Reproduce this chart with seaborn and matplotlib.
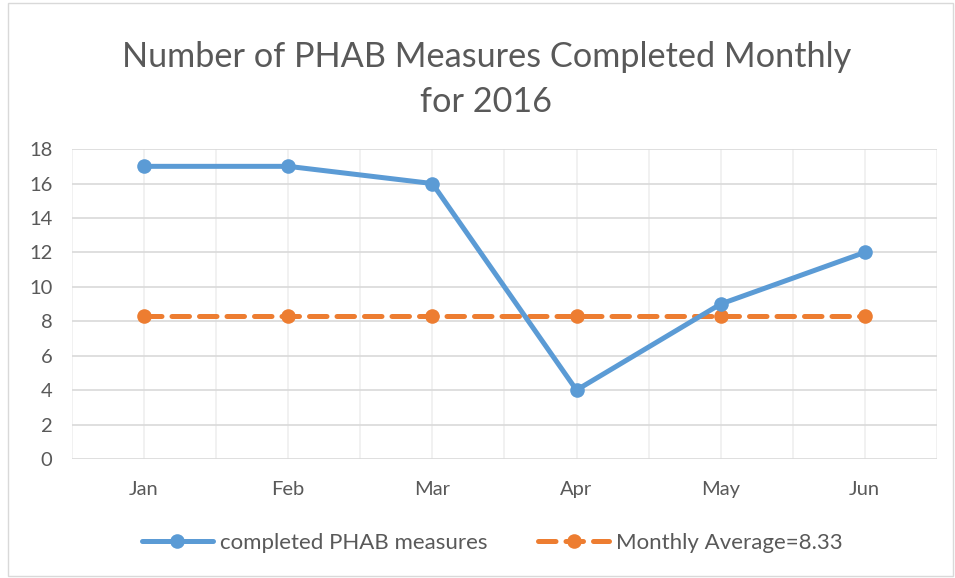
import seaborn as sns
import pandas as pd
import matplotlib.pyplot as plt
from matplotlib.patches import Rectangle

months = ['Jan', 'Feb', 'Mar', 'Apr', 'May', 'Jun']
completed = [17, 17, 16, 4, 9, 12]
average = [8.33, 8.33, 8.33, 8.33, 8.33, 8.33]
yticks = [0, 2, 4, 6, 8, 10, 12, 14, 16, 18]

sns.set_style('white')
plt.rcParams['font.family'] = ['Lato', 'DejaVu Sans']

df = pd.DataFrame({'Month': months, 'completed PHAB measures': completed,
                   'Monthly Average=8.33': average})
df['pos'] = range(len(months))

fig = plt.figure(figsize=(9.55, 5.78), dpi=100)
ax = fig.add_axes([0.0754, 0.206, 0.9056, 0.536])

sns.lineplot(data=df, x='pos', y='completed PHAB measures', ax=ax, color='#5b9bd5',
             linewidth=3.6, marker='o', markersize=10.5, markeredgewidth=0,
             label='completed PHAB measures', zorder=4)
sns.lineplot(data=df, x='pos', y='Monthly Average=8.33', ax=ax, color='#ed7d31',
             linewidth=3.6, marker='o', markersize=10.5, markeredgewidth=0,
             label='Monthly Average=8.33', zorder=3)
ax.lines[-1].set_linestyle((0, (3.5, 2)))
ax.lines[-1].set_dash_capstyle('round')

ax.set_xlim(-0.5, len(months) - 0.5)
ax.set_ylim(0, 18)
ax.set_yticks(yticks)
ax.set_xticks(range(len(months)))
ax.set_xticklabels(months)
ax.set_xlabel('')
ax.set_ylabel('')
ax.tick_params(axis='both', length=0, labelsize=14.5, labelcolor='#595959')
ax.tick_params(axis='x', pad=16)
ax.tick_params(axis='y', pad=14)

for y in yticks:
    ax.axhline(y, color='#d9d9d9', linewidth=1.2, zorder=1)
for i in range(2 * len(months) + 1):
    ax.axvline(-0.5 + i * 0.5, color='#efefef', linewidth=1.2, zorder=0)
for s in ax.spines.values():
    s.set_visible(False)

ax.set_title('Number of PHAB Measures Completed Monthly\nfor 2016', fontsize=24.7,
             color='#595959', pad=27, linespacing=1.5, x=0.479)

leg = ax.legend(loc='center', bbox_to_anchor=(0.486, -0.27), ncol=2, frameon=False,
                fontsize=16, handlelength=3.2, columnspacing=2.3, handletextpad=0.3)
for t in leg.get_texts():
    t.set_color('#595959')

fig.patches.append(Rectangle((0.008, 0.004), 0.99, 0.99, transform=fig.transFigure,
                             fill=False, edgecolor='#d9d9d9', linewidth=1))

fig.savefig('out.png', dpi=100)
